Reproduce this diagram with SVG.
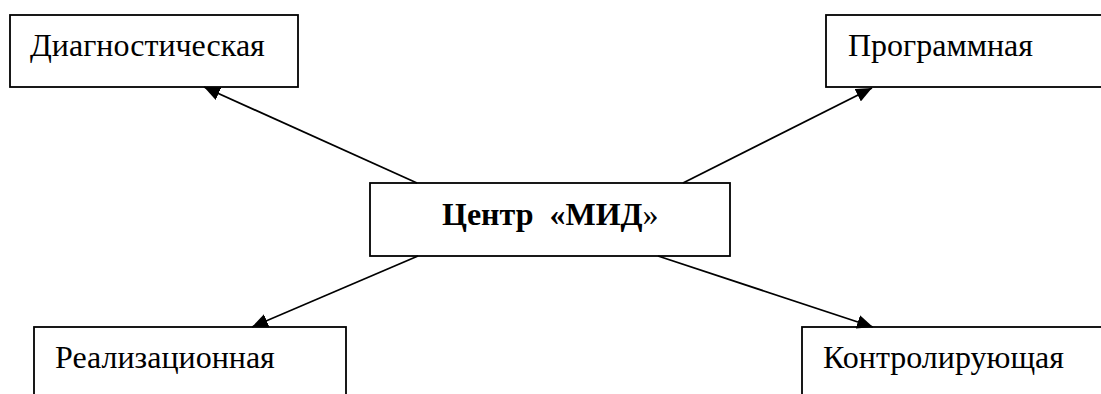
<svg xmlns="http://www.w3.org/2000/svg" width="1101" height="394" viewBox="0 0 1101 394">
<style>
.box{fill:#fff;stroke:#000;stroke-width:1.8}
.lbl{font-family:"Liberation Serif","Times New Roman",serif;font-size:32px;fill:#000}
.b{font-weight:bold;white-space:pre}
.n{font-weight:normal}
.con{stroke:#000;stroke-width:1.8;fill:none;marker-end:url(#ah)}
</style>
<defs>
<marker id="ah" markerUnits="userSpaceOnUse" markerWidth="18" markerHeight="14" refX="16" refY="7" orient="auto">
<path d="M0,0 L16,7 L0,14 z" fill="#000"/>
</marker>
</defs>
<rect width="1101" height="394" fill="#fff"/>
<g id="n-diag"><rect class="box" x="10" y="15" width="288" height="72"/><text class="lbl" x="30" y="56">Диагностическая</text></g>
<g id="n-prog"><rect class="box" x="826" y="15" width="290" height="72"/><text class="lbl" x="848" y="56">Программная</text></g>
<g id="n-center"><rect class="box" x="370" y="183" width="360" height="73"/><text class="lbl b" x="442" y="225" xml:space="preserve">Центр  «МИД<tspan class="n">»</tspan></text></g>
<g id="n-real"><rect class="box" x="34" y="327" width="312" height="80"/><text class="lbl" x="55" y="368">Реализационная</text></g>
<g id="n-kontr"><rect class="box" x="802" y="327" width="310" height="80"/><text class="lbl" x="823" y="368">Контролирующая</text></g>
<g id="connectors">
<line class="con" x1="417" y1="183" x2="204" y2="87"/>
<line class="con" x1="683" y1="183" x2="872" y2="88"/>
<line class="con" x1="418" y1="256" x2="252" y2="327"/>
<line class="con" x1="658" y1="256" x2="873" y2="327"/>
</g>
</svg>
